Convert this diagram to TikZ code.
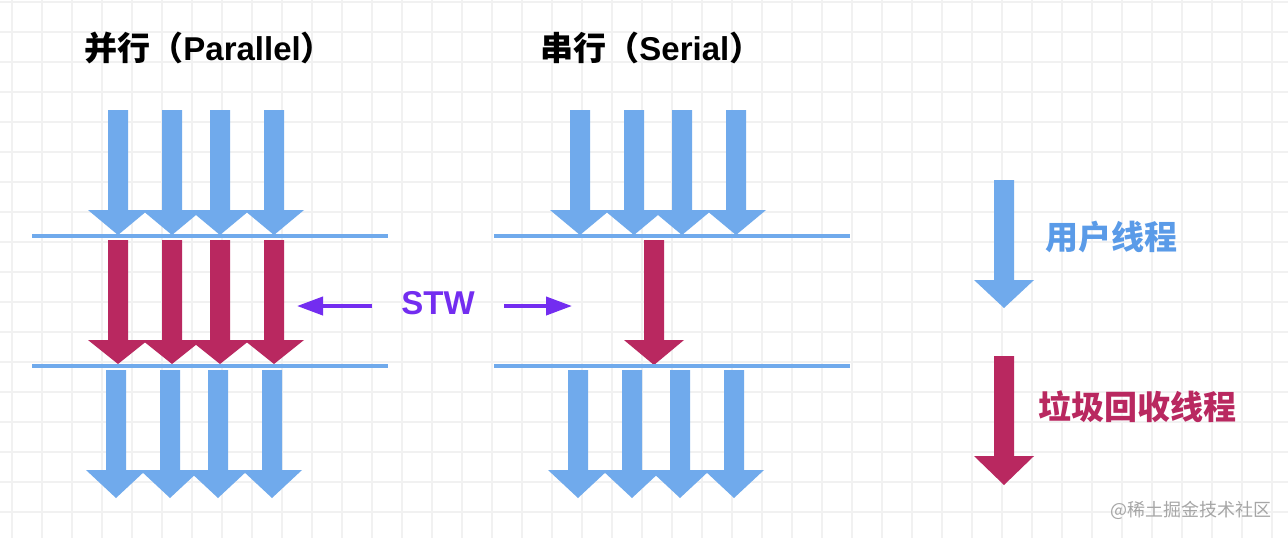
\documentclass[tikz,border=0pt]{standalone}
\usepackage{fontspec}
\setmainfont{Liberation Sans}
\newfontfamily\cjk{Noto Sans CJK SC}
\newfontfamily\lat{Liberation Sans}
\usetikzlibrary{arrows.meta}
\definecolor{ublue}{HTML}{70AAEC}
\definecolor{gcred}{HTML}{B92860}
\definecolor{stwp}{HTML}{732DF0}
\definecolor{tblue}{HTML}{5A9BE8}
\definecolor{gridc}{HTML}{F1F1F1}
\newcommand\fatarrow[5]{\fill[#5] (#1-10,#2) -- (#1+10,#2) -- (#1+10,#3) -- (#1+30,#3) -- (#1,#4) -- (#1-30,#3) -- (#1-10,#3) -- cycle;}
\tikzset{
  sep/.style={ublue, line width=1.6pt},
  stwarr/.style={stwp, line width=2pt, -{Triangle[length=13pt,width=9pt]}},
  title/.style={inner sep=0pt, anchor=west, font=\fontsize{16.5}{20}\selectfont\bfseries},
  legend/.style={inner sep=0pt, anchor=west, font=\cjk\fontsize{16.5}{20}\selectfont\bfseries},
}
\begin{document}
\begin{tikzpicture}[x=0.5pt,y=-0.5pt]
\useasboundingbox (0,0) rectangle (1288,538);
\fill[white] (0,0) rectangle (1288,538);
\foreach \x in {12,42,...,1288} \draw[gridc, line width=0.7pt] (\x,0) -- (\x,538);
\foreach \y in {2,32,...,538} \draw[gridc, line width=0.7pt] (0,\y) -- (1288,\y);
% titles
\node[title] (tpar) at (84,48) {\cjk 并行（\lat Parallel\cjk ）};
\node[title] (tser) at (540,48) {\cjk 串行（\lat Serial\cjk ）};
% parallel
\foreach \c in {118,172,220,274} {\fatarrow{\c}{110}{210}{235}{ublue}}
\foreach \c in {118,172,220,274} {\fatarrow{\c}{240}{340}{364}{gcred}}
\foreach \c in {116,170,218,272} {\fatarrow{\c}{370}{470}{498}{ublue}}
% serial
\foreach \c in {580,634,682,736} {\fatarrow{\c}{110}{210}{235}{ublue}}
\fatarrow{654}{240}{340}{365}{gcred}
\foreach \c in {578,632,680,734} {\fatarrow{\c}{370}{470}{498}{ublue}}
% separator lines
\coordinate (l1a) at (32,236); \coordinate (l1b) at (388,236);
\coordinate (l2a) at (32,366); \coordinate (l2b) at (388,366);
\coordinate (l3a) at (494,236); \coordinate (l3b) at (850,236);
\coordinate (l4a) at (494,366); \coordinate (l4b) at (850,366);
\draw[sep] (l1a) -- (l1b);
\draw[sep] (l2a) -- (l2b);
\draw[sep] (l3a) -- (l3b);
\draw[sep] (l4a) -- (l4b);
% STW
\node[inner sep=0pt, text=stwp, font=\fontsize{16.5}{20}\selectfont\bfseries] (stw) at (438,303) {STW};
\coordinate (sl0) at (372,306); \coordinate (sl1) at (297,306);
\coordinate (sr0) at (504,306); \coordinate (sr1) at (572,306);
\draw[stwarr] (sl0) -- (sl1);
\draw[stwarr] (sr0) -- (sr1);
% legend
\fatarrow{1004}{180}{280}{308}{ublue}
\fatarrow{1004}{356}{456}{485}{gcred}
\node[legend, text=tblue] (lu) at (1045,237) {用户线程};
\node[legend, text=gcred] (lg) at (1038,407) {垃圾回收线程};
\node[inner sep=0pt, anchor=west, text=black!35, font=\cjk\fontsize{9}{11}\selectfont] (wm) at (1110,510) {@稀土掘金技术社区};
\end{tikzpicture}
\end{document}
